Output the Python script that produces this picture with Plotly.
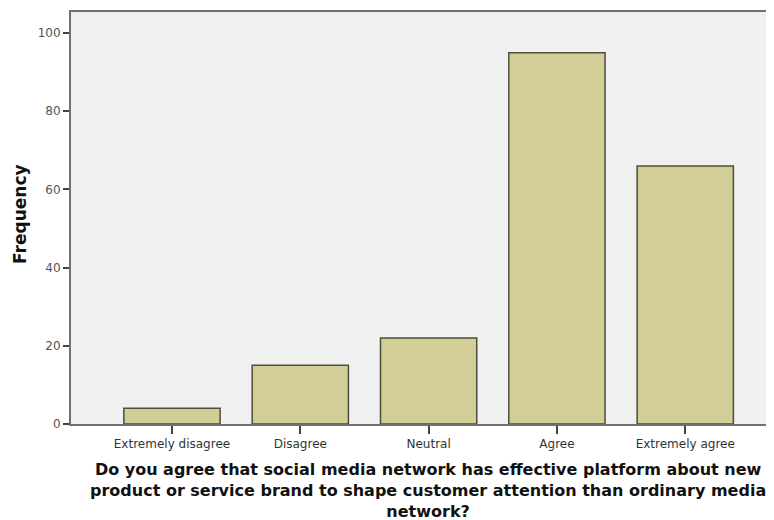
import plotly.graph_objects as go

categories = ["Extremely disagree", "Disagree", "Neutral", "Agree", "Extremely agree"]
frequencies = [4, 15, 22, 95, 66]
y_ticks = [0, 20, 40, 60, 80, 100]

fig = go.Figure()
fig.add_trace(go.Bar(
    x=categories, y=frequencies, width=0.75,
    marker=dict(color="#d3ce97", line=dict(color="#4e4d3a", width=1.5)),
))

fig.update_layout(
    width=774, height=520,
    margin=dict(l=63, r=0, t=4, b=104, autoexpand=False),
    paper_bgcolor="white", plot_bgcolor="#f0f0f0",
    showlegend=False,
    font=dict(family="DejaVu Sans", color="#333"),
    xaxis=dict(
        range=[-0.787, 4.754], showgrid=False, zeroline=False,
        showline=True, linecolor="#6f6f6f", linewidth=2, mirror=True,
        ticks="outside", ticklen=8, tickcolor="#444", tickwidth=1.5,
        tickfont=dict(family="DejaVu Sans", size=12, color="#333"),
    ),
    yaxis=dict(
        range=[0, 105.4], showgrid=False, zeroline=False,
        showline=True, linecolor="#6f6f6f", linewidth=2,
        tickvals=y_ticks, ticks="outside", ticklen=6, tickcolor="#444", tickwidth=1.5,
        tickfont=dict(family="DejaVu Sans", size=12, color="#555"),
    ),
    annotations=[
        dict(text="<b>Frequency</b>", textangle=-90, xref="paper", yref="paper",
             x=-0.0717, y=0.51, xanchor="center", yanchor="middle", showarrow=False,
             font=dict(family="DejaVu Sans", size=17, color="#111")),
        dict(text="<b>Do you agree that social media network has effective platform about new<br>"
                  "product or service brand to shape customer attention than ordinary media<br>"
                  "network?</b>",
             xref="paper", yref="paper", x=0.502, y=-0.083, xanchor="center", yanchor="top",
             align="center", showarrow=False,
             font=dict(family="DejaVu Sans", size=16, color="#111")),
    ],
)

fig.write_html("out.html")
